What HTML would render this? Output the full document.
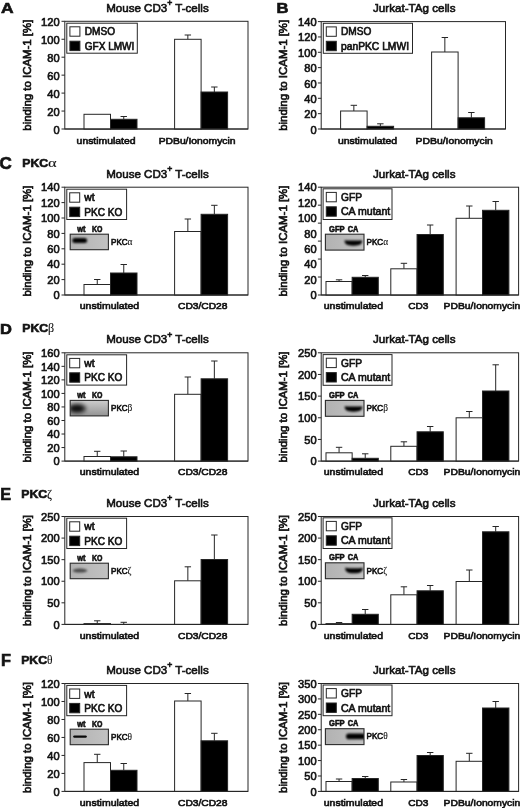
<!DOCTYPE html>
<html lang="en"><head><meta charset="utf-8"><title>PKC isotypes and binding to ICAM-1</title>
<style>html,body{margin:0;padding:0;background:#fff}svg{display:block}text{font-family:"Liberation Sans", Arial, Helvetica, sans-serif;stroke:#111;stroke-width:0.62px;paint-order:stroke fill}</style></head><body>
<svg width="520" height="808" viewBox="0 0 520 808">
<defs>
<filter id="b0" x="-60%" y="-150%" width="220%" height="400%"><feGaussianBlur stdDeviation="0.55"/></filter>
<filter id="b1" x="-60%" y="-150%" width="220%" height="400%"><feGaussianBlur stdDeviation="0.95"/></filter>
<filter id="b2" x="-60%" y="-150%" width="220%" height="400%"><feGaussianBlur stdDeviation="1.3"/></filter>
<filter id="b3" x="-60%" y="-150%" width="220%" height="400%"><feGaussianBlur stdDeviation="2.2"/></filter>
<linearGradient id="gA" x1="0" y1="0" x2="1" y2="0"><stop offset="0" stop-color="#b2b2b2"/><stop offset="1" stop-color="#c2c2c2"/></linearGradient>
<linearGradient id="gB" x1="0" y1="0" x2="0" y2="1"><stop offset="0" stop-color="#cdcdcd"/><stop offset="1" stop-color="#939393"/></linearGradient>
</defs>
<rect x="0" y="0" width="520" height="808" fill="#fff"/>
<rect x="64.80" y="21.30" width="183.20" height="107.70" fill="#fff" stroke="#262626" stroke-width="1.0"/>
<line x1="61.50" y1="129.00" x2="64.80" y2="129.00" stroke="#262626" stroke-width="1.0"/>
<line x1="61.50" y1="111.05" x2="64.80" y2="111.05" stroke="#262626" stroke-width="1.0"/>
<line x1="61.50" y1="93.10" x2="64.80" y2="93.10" stroke="#262626" stroke-width="1.0"/>
<line x1="61.50" y1="75.15" x2="64.80" y2="75.15" stroke="#262626" stroke-width="1.0"/>
<line x1="61.50" y1="57.20" x2="64.80" y2="57.20" stroke="#262626" stroke-width="1.0"/>
<line x1="61.50" y1="39.25" x2="64.80" y2="39.25" stroke="#262626" stroke-width="1.0"/>
<line x1="61.50" y1="21.30" x2="64.80" y2="21.30" stroke="#262626" stroke-width="1.0"/>
<text x="59.60" y="134.00" font-size="11.1" text-anchor="end" font-weight="normal" fill="#111">0</text>
<text x="59.60" y="115.93" font-size="11.1" text-anchor="end" font-weight="normal" fill="#111">20</text>
<text x="59.60" y="97.87" font-size="11.1" text-anchor="end" font-weight="normal" fill="#111">40</text>
<text x="59.60" y="79.80" font-size="11.1" text-anchor="end" font-weight="normal" fill="#111">60</text>
<text x="59.60" y="61.73" font-size="11.1" text-anchor="end" font-weight="normal" fill="#111">80</text>
<text x="59.60" y="43.67" font-size="11.1" text-anchor="end" font-weight="normal" fill="#111">100</text>
<text x="59.60" y="25.60" font-size="11.1" text-anchor="end" font-weight="normal" fill="#111">120</text>
<text transform="translate(30.80,75.15) rotate(-90)" font-size="10.1" text-anchor="middle" fill="#111" textLength="111.0" lengthAdjust="spacingAndGlyphs">binding to ICAM-1 [%]</text>
<text x="106.20" y="11.85" font-size="11.8" text-anchor="start" font-weight="normal" fill="#111" textLength="102.50" lengthAdjust="spacingAndGlyphs">Mouse CD3<tspan dy="-5.8" font-size="8.8">+</tspan><tspan dy="5.8"> </tspan>T-cells</text>
<rect x="84.00" y="114.30" width="26.50" height="14.70" fill="#fff" stroke="#262626" stroke-width="1.0"/>
<line x1="123.75" y1="119.30" x2="123.75" y2="116.50" stroke="#262626" stroke-width="1.0"/>
<line x1="120.55" y1="116.50" x2="126.95" y2="116.50" stroke="#262626" stroke-width="1.0"/>
<rect x="110.50" y="119.30" width="26.50" height="9.70" fill="#000" stroke="#262626" stroke-width="1.0"/>
<line x1="187.85" y1="39.30" x2="187.85" y2="35.00" stroke="#262626" stroke-width="1.0"/>
<line x1="184.65" y1="35.00" x2="191.05" y2="35.00" stroke="#262626" stroke-width="1.0"/>
<rect x="174.60" y="39.30" width="26.50" height="89.70" fill="#fff" stroke="#262626" stroke-width="1.0"/>
<line x1="214.35" y1="92.00" x2="214.35" y2="87.00" stroke="#262626" stroke-width="1.0"/>
<line x1="211.15" y1="87.00" x2="217.55" y2="87.00" stroke="#262626" stroke-width="1.0"/>
<rect x="201.10" y="92.00" width="26.50" height="37.00" fill="#000" stroke="#262626" stroke-width="1.0"/>
<line x1="64.80" y1="129.00" x2="248.00" y2="129.00" stroke="#262626" stroke-width="1.0"/>
<text x="76.60" y="143.50" font-size="9.6" text-anchor="start" font-weight="normal" fill="#111" textLength="59.00" lengthAdjust="spacingAndGlyphs">unstimulated</text>
<text x="158.70" y="143.50" font-size="9.6" text-anchor="start" font-weight="normal" fill="#111" textLength="76.80" lengthAdjust="spacingAndGlyphs">PDBu/Ionomycin</text>
<rect x="66.80" y="23.20" width="70.50" height="30.00" fill="#fff" stroke="#262626" stroke-width="1.0"/>
<rect x="69.90" y="26.80" width="10.00" height="9.40" fill="#fff" stroke="#262626" stroke-width="1.0"/>
<text x="84.70" y="35.30" font-size="10.2" text-anchor="start" font-weight="normal" fill="#111" textLength="30.30" lengthAdjust="spacingAndGlyphs">DMSO</text>
<rect x="69.90" y="41.20" width="10.00" height="9.40" fill="#000" stroke="#262626" stroke-width="1.0"/>
<text x="84.70" y="49.70" font-size="10.2" text-anchor="start" font-weight="normal" fill="#111" textLength="49.70" lengthAdjust="spacingAndGlyphs">GFX LMWI</text>
<rect x="321.20" y="21.60" width="184.30" height="107.40" fill="#fff" stroke="#262626" stroke-width="1.0"/>
<line x1="317.90" y1="129.00" x2="321.20" y2="129.00" stroke="#262626" stroke-width="1.0"/>
<line x1="317.90" y1="113.66" x2="321.20" y2="113.66" stroke="#262626" stroke-width="1.0"/>
<line x1="317.90" y1="98.31" x2="321.20" y2="98.31" stroke="#262626" stroke-width="1.0"/>
<line x1="317.90" y1="82.97" x2="321.20" y2="82.97" stroke="#262626" stroke-width="1.0"/>
<line x1="317.90" y1="67.63" x2="321.20" y2="67.63" stroke="#262626" stroke-width="1.0"/>
<line x1="317.90" y1="52.29" x2="321.20" y2="52.29" stroke="#262626" stroke-width="1.0"/>
<line x1="317.90" y1="36.94" x2="321.20" y2="36.94" stroke="#262626" stroke-width="1.0"/>
<line x1="317.90" y1="21.60" x2="321.20" y2="21.60" stroke="#262626" stroke-width="1.0"/>
<text x="316.60" y="133.80" font-size="11.1" text-anchor="end" font-weight="normal" fill="#111">0</text>
<text x="316.60" y="118.39" font-size="11.1" text-anchor="end" font-weight="normal" fill="#111">20</text>
<text x="316.60" y="102.97" font-size="11.1" text-anchor="end" font-weight="normal" fill="#111">40</text>
<text x="316.60" y="87.56" font-size="11.1" text-anchor="end" font-weight="normal" fill="#111">60</text>
<text x="316.60" y="72.14" font-size="11.1" text-anchor="end" font-weight="normal" fill="#111">80</text>
<text x="316.60" y="56.73" font-size="11.1" text-anchor="end" font-weight="normal" fill="#111">100</text>
<text x="316.60" y="41.31" font-size="11.1" text-anchor="end" font-weight="normal" fill="#111">120</text>
<text x="316.60" y="25.90" font-size="11.1" text-anchor="end" font-weight="normal" fill="#111">140</text>
<text transform="translate(287.30,75.30) rotate(-90)" font-size="10.1" text-anchor="middle" fill="#111" textLength="111.0" lengthAdjust="spacingAndGlyphs">binding to ICAM-1 [%]</text>
<text x="373.00" y="12.15" font-size="11.8" text-anchor="start" font-weight="normal" fill="#111" textLength="82.50" lengthAdjust="spacingAndGlyphs">Jurkat-TAg cells</text>
<line x1="353.85" y1="111.00" x2="353.85" y2="105.30" stroke="#262626" stroke-width="1.0"/>
<line x1="350.65" y1="105.30" x2="357.05" y2="105.30" stroke="#262626" stroke-width="1.0"/>
<rect x="340.60" y="111.00" width="26.50" height="18.00" fill="#fff" stroke="#262626" stroke-width="1.0"/>
<line x1="380.35" y1="126.30" x2="380.35" y2="123.80" stroke="#262626" stroke-width="1.0"/>
<line x1="377.15" y1="123.80" x2="383.55" y2="123.80" stroke="#262626" stroke-width="1.0"/>
<rect x="367.10" y="126.30" width="26.50" height="2.70" fill="#000" stroke="#262626" stroke-width="1.0"/>
<line x1="444.85" y1="52.00" x2="444.85" y2="37.50" stroke="#262626" stroke-width="1.0"/>
<line x1="441.65" y1="37.50" x2="448.05" y2="37.50" stroke="#262626" stroke-width="1.0"/>
<rect x="431.60" y="52.00" width="26.50" height="77.00" fill="#fff" stroke="#262626" stroke-width="1.0"/>
<line x1="471.35" y1="117.80" x2="471.35" y2="112.50" stroke="#262626" stroke-width="1.0"/>
<line x1="468.15" y1="112.50" x2="474.55" y2="112.50" stroke="#262626" stroke-width="1.0"/>
<rect x="458.10" y="117.80" width="26.50" height="11.20" fill="#000" stroke="#262626" stroke-width="1.0"/>
<line x1="321.20" y1="129.00" x2="505.50" y2="129.00" stroke="#262626" stroke-width="1.0"/>
<text x="337.90" y="143.50" font-size="9.6" text-anchor="start" font-weight="normal" fill="#111" textLength="59.20" lengthAdjust="spacingAndGlyphs">unstimulated</text>
<text x="415.60" y="143.50" font-size="9.6" text-anchor="start" font-weight="normal" fill="#111" textLength="77.20" lengthAdjust="spacingAndGlyphs">PDBu/Ionomycin</text>
<rect x="323.30" y="23.30" width="89.20" height="30.00" fill="#fff" stroke="#262626" stroke-width="1.0"/>
<rect x="326.30" y="26.90" width="10.00" height="9.40" fill="#fff" stroke="#262626" stroke-width="1.0"/>
<text x="341.00" y="35.40" font-size="10.2" text-anchor="start" font-weight="normal" fill="#111" textLength="30.30" lengthAdjust="spacingAndGlyphs">DMSO</text>
<rect x="326.30" y="41.30" width="10.00" height="9.40" fill="#000" stroke="#262626" stroke-width="1.0"/>
<text x="341.00" y="49.80" font-size="10.2" text-anchor="start" font-weight="normal" fill="#111" textLength="68.00" lengthAdjust="spacingAndGlyphs">panPKC LMWI</text>
<rect x="64.80" y="187.20" width="183.20" height="107.80" fill="#fff" stroke="#262626" stroke-width="1.0"/>
<line x1="61.50" y1="295.00" x2="64.80" y2="295.00" stroke="#262626" stroke-width="1.0"/>
<line x1="61.50" y1="279.60" x2="64.80" y2="279.60" stroke="#262626" stroke-width="1.0"/>
<line x1="61.50" y1="264.20" x2="64.80" y2="264.20" stroke="#262626" stroke-width="1.0"/>
<line x1="61.50" y1="248.80" x2="64.80" y2="248.80" stroke="#262626" stroke-width="1.0"/>
<line x1="61.50" y1="233.40" x2="64.80" y2="233.40" stroke="#262626" stroke-width="1.0"/>
<line x1="61.50" y1="218.00" x2="64.80" y2="218.00" stroke="#262626" stroke-width="1.0"/>
<line x1="61.50" y1="202.60" x2="64.80" y2="202.60" stroke="#262626" stroke-width="1.0"/>
<line x1="61.50" y1="187.20" x2="64.80" y2="187.20" stroke="#262626" stroke-width="1.0"/>
<text x="59.60" y="299.20" font-size="11.1" text-anchor="end" font-weight="normal" fill="#111">0</text>
<text x="59.60" y="283.80" font-size="11.1" text-anchor="end" font-weight="normal" fill="#111">20</text>
<text x="59.60" y="268.40" font-size="11.1" text-anchor="end" font-weight="normal" fill="#111">40</text>
<text x="59.60" y="253.00" font-size="11.1" text-anchor="end" font-weight="normal" fill="#111">60</text>
<text x="59.60" y="237.60" font-size="11.1" text-anchor="end" font-weight="normal" fill="#111">80</text>
<text x="59.60" y="222.20" font-size="11.1" text-anchor="end" font-weight="normal" fill="#111">100</text>
<text x="59.60" y="206.80" font-size="11.1" text-anchor="end" font-weight="normal" fill="#111">120</text>
<text x="59.60" y="191.40" font-size="11.1" text-anchor="end" font-weight="normal" fill="#111">140</text>
<text transform="translate(30.80,241.10) rotate(-90)" font-size="10.1" text-anchor="middle" fill="#111" textLength="111.0" lengthAdjust="spacingAndGlyphs">binding to ICAM-1 [%]</text>
<text x="106.20" y="177.75" font-size="11.8" text-anchor="start" font-weight="normal" fill="#111" textLength="102.50" lengthAdjust="spacingAndGlyphs">Mouse CD3<tspan dy="-5.8" font-size="8.8">+</tspan><tspan dy="5.8"> </tspan>T-cells</text>
<line x1="97.25" y1="284.50" x2="97.25" y2="279.50" stroke="#262626" stroke-width="1.0"/>
<line x1="94.05" y1="279.50" x2="100.45" y2="279.50" stroke="#262626" stroke-width="1.0"/>
<rect x="84.00" y="284.50" width="26.50" height="10.50" fill="#fff" stroke="#262626" stroke-width="1.0"/>
<line x1="123.75" y1="273.00" x2="123.75" y2="264.50" stroke="#262626" stroke-width="1.0"/>
<line x1="120.55" y1="264.50" x2="126.95" y2="264.50" stroke="#262626" stroke-width="1.0"/>
<rect x="110.50" y="273.00" width="26.50" height="22.00" fill="#000" stroke="#262626" stroke-width="1.0"/>
<line x1="187.85" y1="231.50" x2="187.85" y2="219.00" stroke="#262626" stroke-width="1.0"/>
<line x1="184.65" y1="219.00" x2="191.05" y2="219.00" stroke="#262626" stroke-width="1.0"/>
<rect x="174.60" y="231.50" width="26.50" height="63.50" fill="#fff" stroke="#262626" stroke-width="1.0"/>
<line x1="214.35" y1="214.30" x2="214.35" y2="205.30" stroke="#262626" stroke-width="1.0"/>
<line x1="211.15" y1="205.30" x2="217.55" y2="205.30" stroke="#262626" stroke-width="1.0"/>
<rect x="201.10" y="214.30" width="26.50" height="80.70" fill="#000" stroke="#262626" stroke-width="1.0"/>
<line x1="64.80" y1="295.00" x2="248.00" y2="295.00" stroke="#262626" stroke-width="1.0"/>
<text x="79.80" y="309.20" font-size="9.6" text-anchor="start" font-weight="normal" fill="#111" textLength="59.40" lengthAdjust="spacingAndGlyphs">unstimulated</text>
<text x="178.00" y="309.20" font-size="9.6" text-anchor="start" font-weight="normal" fill="#111" textLength="49.50" lengthAdjust="spacingAndGlyphs">CD3/CD28</text>
<rect x="66.80" y="189.20" width="59.80" height="30.30" fill="#fff" stroke="#262626" stroke-width="1.0"/>
<rect x="69.70" y="192.80" width="10.00" height="9.40" fill="#fff" stroke="#262626" stroke-width="1.0"/>
<text x="84.20" y="201.30" font-size="10.2" text-anchor="start" font-weight="normal" fill="#111" textLength="10.40" lengthAdjust="spacingAndGlyphs">wt</text>
<rect x="69.70" y="207.20" width="10.00" height="9.40" fill="#000" stroke="#262626" stroke-width="1.0"/>
<text x="84.20" y="215.70" font-size="10.2" text-anchor="start" font-weight="normal" fill="#111" textLength="38.10" lengthAdjust="spacingAndGlyphs">PKC KO</text>
<clipPath id="c3"><rect x="70.20" y="234.20" width="38.20" height="15.50"/></clipPath>
<rect x="70.20" y="234.20" width="38.20" height="15.50" fill="url(#gA)"/>
<g clip-path="url(#c3)">
<rect x="72.30" y="237.90" width="14.8" height="5.0" rx="2.5" fill="#000" opacity="1" filter="url(#b1)"/>
</g>
<rect x="70.20" y="234.20" width="38.20" height="15.50" fill="none" stroke="#2a2a2a" stroke-width="1.1"/>
<text x="77.30" y="231.60" font-size="8.6" text-anchor="start" font-weight="bold" fill="#111" textLength="8.30" lengthAdjust="spacingAndGlyphs" stroke-width="0.1">wt</text>
<text x="92.00" y="231.60" font-size="8.6" text-anchor="start" font-weight="bold" fill="#111" textLength="10.40" lengthAdjust="spacingAndGlyphs" stroke-width="0.1">KO</text>
<text x="111.00" y="244.75" font-size="8.4" font-weight="normal" stroke-width="0.5" fill="#111"><tspan textLength="16.6" lengthAdjust="spacingAndGlyphs">PKC</tspan><tspan font-family='"Liberation Serif", "DejaVu Serif", serif' font-weight="normal" font-size="9.4" stroke-width="0.1">α</tspan></text>
<rect x="321.20" y="187.20" width="197.40" height="107.80" fill="#fff" stroke="#262626" stroke-width="1.0"/>
<line x1="317.90" y1="295.00" x2="321.20" y2="295.00" stroke="#262626" stroke-width="1.0"/>
<line x1="317.90" y1="277.03" x2="321.20" y2="277.03" stroke="#262626" stroke-width="1.0"/>
<line x1="317.90" y1="259.07" x2="321.20" y2="259.07" stroke="#262626" stroke-width="1.0"/>
<line x1="317.90" y1="241.10" x2="321.20" y2="241.10" stroke="#262626" stroke-width="1.0"/>
<line x1="317.90" y1="223.13" x2="321.20" y2="223.13" stroke="#262626" stroke-width="1.0"/>
<line x1="317.90" y1="205.17" x2="321.20" y2="205.17" stroke="#262626" stroke-width="1.0"/>
<line x1="317.90" y1="187.20" x2="321.20" y2="187.20" stroke="#262626" stroke-width="1.0"/>
<text x="316.60" y="299.20" font-size="11.1" text-anchor="end" font-weight="normal" fill="#111">0</text>
<text x="316.60" y="283.80" font-size="11.1" text-anchor="end" font-weight="normal" fill="#111">20</text>
<text x="316.60" y="268.40" font-size="11.1" text-anchor="end" font-weight="normal" fill="#111">40</text>
<text x="316.60" y="253.00" font-size="11.1" text-anchor="end" font-weight="normal" fill="#111">60</text>
<text x="316.60" y="237.60" font-size="11.1" text-anchor="end" font-weight="normal" fill="#111">80</text>
<text x="316.60" y="222.20" font-size="11.1" text-anchor="end" font-weight="normal" fill="#111">100</text>
<text x="316.60" y="206.80" font-size="11.1" text-anchor="end" font-weight="normal" fill="#111">120</text>
<text x="316.60" y="191.40" font-size="11.1" text-anchor="end" font-weight="normal" fill="#111">140</text>
<text transform="translate(287.10,241.10) rotate(-90)" font-size="10.1" text-anchor="middle" fill="#111" textLength="111.0" lengthAdjust="spacingAndGlyphs">binding to ICAM-1 [%]</text>
<text x="373.00" y="177.75" font-size="11.8" text-anchor="start" font-weight="normal" fill="#111" textLength="82.50" lengthAdjust="spacingAndGlyphs">Jurkat-TAg cells</text>
<line x1="339.07" y1="281.50" x2="339.07" y2="279.80" stroke="#262626" stroke-width="1.0"/>
<line x1="335.88" y1="279.80" x2="342.27" y2="279.80" stroke="#262626" stroke-width="1.0"/>
<rect x="326.00" y="281.50" width="26.15" height="13.50" fill="#fff" stroke="#262626" stroke-width="1.0"/>
<line x1="365.22" y1="277.30" x2="365.22" y2="275.50" stroke="#262626" stroke-width="1.0"/>
<line x1="362.02" y1="275.50" x2="368.42" y2="275.50" stroke="#262626" stroke-width="1.0"/>
<rect x="352.15" y="277.30" width="26.15" height="17.70" fill="#000" stroke="#262626" stroke-width="1.0"/>
<line x1="403.93" y1="268.80" x2="403.93" y2="263.30" stroke="#262626" stroke-width="1.0"/>
<line x1="400.73" y1="263.30" x2="407.12" y2="263.30" stroke="#262626" stroke-width="1.0"/>
<rect x="390.80" y="268.80" width="26.25" height="26.20" fill="#fff" stroke="#262626" stroke-width="1.0"/>
<line x1="430.18" y1="234.50" x2="430.18" y2="225.00" stroke="#262626" stroke-width="1.0"/>
<line x1="426.98" y1="225.00" x2="433.38" y2="225.00" stroke="#262626" stroke-width="1.0"/>
<rect x="417.05" y="234.50" width="26.25" height="60.50" fill="#000" stroke="#262626" stroke-width="1.0"/>
<line x1="469.30" y1="218.30" x2="469.30" y2="206.00" stroke="#262626" stroke-width="1.0"/>
<line x1="466.10" y1="206.00" x2="472.50" y2="206.00" stroke="#262626" stroke-width="1.0"/>
<rect x="456.10" y="218.30" width="26.40" height="76.70" fill="#fff" stroke="#262626" stroke-width="1.0"/>
<line x1="495.70" y1="210.30" x2="495.70" y2="201.50" stroke="#262626" stroke-width="1.0"/>
<line x1="492.50" y1="201.50" x2="498.90" y2="201.50" stroke="#262626" stroke-width="1.0"/>
<rect x="482.50" y="210.30" width="26.40" height="84.70" fill="#000" stroke="#262626" stroke-width="1.0"/>
<line x1="321.20" y1="295.00" x2="518.60" y2="295.00" stroke="#262626" stroke-width="1.0"/>
<text x="323.80" y="309.20" font-size="9.6" text-anchor="start" font-weight="normal" fill="#111" textLength="59.20" lengthAdjust="spacingAndGlyphs">unstimulated</text>
<text x="408.30" y="309.20" font-size="9.6" text-anchor="start" font-weight="normal" fill="#111" textLength="20.20" lengthAdjust="spacingAndGlyphs">CD3</text>
<text x="443.60" y="309.20" font-size="9.6" text-anchor="start" font-weight="normal" fill="#111" textLength="76.60" lengthAdjust="spacingAndGlyphs">PDBu/Ionomycin</text>
<rect x="323.10" y="188.80" width="68.90" height="30.70" fill="#fff" stroke="#262626" stroke-width="1.0"/>
<rect x="326.30" y="192.40" width="10.00" height="9.40" fill="#fff" stroke="#262626" stroke-width="1.0"/>
<text x="341.00" y="200.90" font-size="10.2" text-anchor="start" font-weight="normal" fill="#111" textLength="21.00" lengthAdjust="spacingAndGlyphs">GFP</text>
<rect x="326.30" y="206.80" width="10.00" height="9.40" fill="#000" stroke="#262626" stroke-width="1.0"/>
<text x="341.00" y="215.30" font-size="10.2" text-anchor="start" font-weight="normal" fill="#111" textLength="49.30" lengthAdjust="spacingAndGlyphs">CA mutant</text>
<clipPath id="c4"><rect x="325.40" y="234.20" width="38.60" height="15.90"/></clipPath>
<rect x="325.40" y="234.20" width="38.60" height="15.90" fill="url(#gA)"/>
<g clip-path="url(#c4)">
<path transform="translate(353.40,242.60) scale(1.0)" d="M-8.6,-2.7 Q-7.6,-1.9 -4,-2 L4,-2 Q7.6,-1.9 8.6,-2.7 Q9.6,0.8 5.5,2.5 Q0,3.7 -5.5,2.5 Q-9.6,0.8 -8.6,-2.7Z" fill="#000" opacity="1" filter="url(#b1)"/>
</g>
<rect x="325.40" y="234.20" width="38.60" height="15.90" fill="none" stroke="#2a2a2a" stroke-width="1.1"/>
<text x="329.00" y="231.60" font-size="8.6" text-anchor="start" font-weight="bold" fill="#111" textLength="15.60" lengthAdjust="spacingAndGlyphs" stroke-width="0.1">GFP</text>
<text x="347.80" y="231.60" font-size="8.6" text-anchor="start" font-weight="bold" fill="#111" textLength="10.60" lengthAdjust="spacingAndGlyphs" stroke-width="0.1">CA</text>
<text x="366.60" y="244.95" font-size="8.4" font-weight="normal" stroke-width="0.5" fill="#111"><tspan textLength="16.6" lengthAdjust="spacingAndGlyphs">PKC</tspan><tspan font-family='"Liberation Serif", "DejaVu Serif", serif' font-weight="normal" font-size="9.4" stroke-width="0.1">α</tspan></text>
<rect x="64.80" y="352.80" width="183.20" height="108.30" fill="#fff" stroke="#262626" stroke-width="1.0"/>
<line x1="61.50" y1="461.10" x2="64.80" y2="461.10" stroke="#262626" stroke-width="1.0"/>
<line x1="61.50" y1="447.56" x2="64.80" y2="447.56" stroke="#262626" stroke-width="1.0"/>
<line x1="61.50" y1="434.03" x2="64.80" y2="434.03" stroke="#262626" stroke-width="1.0"/>
<line x1="61.50" y1="420.49" x2="64.80" y2="420.49" stroke="#262626" stroke-width="1.0"/>
<line x1="61.50" y1="406.95" x2="64.80" y2="406.95" stroke="#262626" stroke-width="1.0"/>
<line x1="61.50" y1="393.41" x2="64.80" y2="393.41" stroke="#262626" stroke-width="1.0"/>
<line x1="61.50" y1="379.88" x2="64.80" y2="379.88" stroke="#262626" stroke-width="1.0"/>
<line x1="61.50" y1="366.34" x2="64.80" y2="366.34" stroke="#262626" stroke-width="1.0"/>
<line x1="61.50" y1="352.80" x2="64.80" y2="352.80" stroke="#262626" stroke-width="1.0"/>
<text x="59.60" y="465.30" font-size="11.1" text-anchor="end" font-weight="normal" fill="#111">0</text>
<text x="59.60" y="451.76" font-size="11.1" text-anchor="end" font-weight="normal" fill="#111">20</text>
<text x="59.60" y="438.23" font-size="11.1" text-anchor="end" font-weight="normal" fill="#111">40</text>
<text x="59.60" y="424.69" font-size="11.1" text-anchor="end" font-weight="normal" fill="#111">60</text>
<text x="59.60" y="411.15" font-size="11.1" text-anchor="end" font-weight="normal" fill="#111">80</text>
<text x="59.60" y="397.61" font-size="11.1" text-anchor="end" font-weight="normal" fill="#111">100</text>
<text x="59.60" y="384.07" font-size="11.1" text-anchor="end" font-weight="normal" fill="#111">120</text>
<text x="59.60" y="370.54" font-size="11.1" text-anchor="end" font-weight="normal" fill="#111">140</text>
<text x="59.60" y="357.00" font-size="11.1" text-anchor="end" font-weight="normal" fill="#111">160</text>
<text transform="translate(30.80,406.95) rotate(-90)" font-size="10.1" text-anchor="middle" fill="#111" textLength="111.0" lengthAdjust="spacingAndGlyphs">binding to ICAM-1 [%]</text>
<text x="106.20" y="343.35" font-size="11.8" text-anchor="start" font-weight="normal" fill="#111" textLength="102.50" lengthAdjust="spacingAndGlyphs">Mouse CD3<tspan dy="-5.8" font-size="8.8">+</tspan><tspan dy="5.8"> </tspan>T-cells</text>
<line x1="97.25" y1="456.50" x2="97.25" y2="451.30" stroke="#262626" stroke-width="1.0"/>
<line x1="94.05" y1="451.30" x2="100.45" y2="451.30" stroke="#262626" stroke-width="1.0"/>
<rect x="84.00" y="456.50" width="26.50" height="4.60" fill="#fff" stroke="#262626" stroke-width="1.0"/>
<line x1="123.75" y1="456.80" x2="123.75" y2="451.00" stroke="#262626" stroke-width="1.0"/>
<line x1="120.55" y1="451.00" x2="126.95" y2="451.00" stroke="#262626" stroke-width="1.0"/>
<rect x="110.50" y="456.80" width="26.50" height="4.30" fill="#000" stroke="#262626" stroke-width="1.0"/>
<line x1="187.85" y1="394.30" x2="187.85" y2="377.00" stroke="#262626" stroke-width="1.0"/>
<line x1="184.65" y1="377.00" x2="191.05" y2="377.00" stroke="#262626" stroke-width="1.0"/>
<rect x="174.60" y="394.30" width="26.50" height="66.80" fill="#fff" stroke="#262626" stroke-width="1.0"/>
<line x1="214.35" y1="378.80" x2="214.35" y2="361.00" stroke="#262626" stroke-width="1.0"/>
<line x1="211.15" y1="361.00" x2="217.55" y2="361.00" stroke="#262626" stroke-width="1.0"/>
<rect x="201.10" y="378.80" width="26.50" height="82.30" fill="#000" stroke="#262626" stroke-width="1.0"/>
<line x1="64.80" y1="461.10" x2="248.00" y2="461.10" stroke="#262626" stroke-width="1.0"/>
<text x="79.80" y="475.20" font-size="9.6" text-anchor="start" font-weight="normal" fill="#111" textLength="59.40" lengthAdjust="spacingAndGlyphs">unstimulated</text>
<text x="178.00" y="475.20" font-size="9.6" text-anchor="start" font-weight="normal" fill="#111" textLength="49.50" lengthAdjust="spacingAndGlyphs">CD3/CD28</text>
<rect x="66.80" y="354.80" width="59.80" height="30.30" fill="#fff" stroke="#262626" stroke-width="1.0"/>
<rect x="69.70" y="358.40" width="10.00" height="9.40" fill="#fff" stroke="#262626" stroke-width="1.0"/>
<text x="84.20" y="366.90" font-size="10.2" text-anchor="start" font-weight="normal" fill="#111" textLength="10.40" lengthAdjust="spacingAndGlyphs">wt</text>
<rect x="69.70" y="372.80" width="10.00" height="9.40" fill="#000" stroke="#262626" stroke-width="1.0"/>
<text x="84.20" y="381.30" font-size="10.2" text-anchor="start" font-weight="normal" fill="#111" textLength="38.10" lengthAdjust="spacingAndGlyphs">PKC KO</text>
<clipPath id="c5"><rect x="70.20" y="400.40" width="38.20" height="15.50"/></clipPath>
<rect x="70.20" y="400.40" width="38.20" height="15.50" fill="url(#gB)"/>
<g clip-path="url(#c5)">
<ellipse cx="77.00" cy="408.40" rx="9.0" ry="4.6" fill="#000" opacity="0.85" filter="url(#b3)"/>
<ellipse cx="77.00" cy="408.60" rx="4.5" ry="2.2" fill="#000" opacity="0.4" filter="url(#b2)"/>
</g>
<rect x="70.20" y="400.40" width="38.20" height="15.50" fill="none" stroke="#2a2a2a" stroke-width="1.1"/>
<text x="77.30" y="397.80" font-size="8.6" text-anchor="start" font-weight="bold" fill="#111" textLength="8.30" lengthAdjust="spacingAndGlyphs" stroke-width="0.1">wt</text>
<text x="92.00" y="397.80" font-size="8.6" text-anchor="start" font-weight="bold" fill="#111" textLength="10.40" lengthAdjust="spacingAndGlyphs" stroke-width="0.1">KO</text>
<text x="111.00" y="410.95" font-size="8.4" font-weight="normal" stroke-width="0.5" fill="#111"><tspan textLength="16.6" lengthAdjust="spacingAndGlyphs">PKC</tspan><tspan font-family='"Liberation Serif", "DejaVu Serif", serif' font-weight="normal" font-size="9.4" stroke-width="0.1">β</tspan></text>
<rect x="321.20" y="352.80" width="197.40" height="108.30" fill="#fff" stroke="#262626" stroke-width="1.0"/>
<line x1="317.90" y1="461.10" x2="321.20" y2="461.10" stroke="#262626" stroke-width="1.0"/>
<line x1="317.90" y1="439.44" x2="321.20" y2="439.44" stroke="#262626" stroke-width="1.0"/>
<line x1="317.90" y1="417.78" x2="321.20" y2="417.78" stroke="#262626" stroke-width="1.0"/>
<line x1="317.90" y1="396.12" x2="321.20" y2="396.12" stroke="#262626" stroke-width="1.0"/>
<line x1="317.90" y1="374.46" x2="321.20" y2="374.46" stroke="#262626" stroke-width="1.0"/>
<line x1="317.90" y1="352.80" x2="321.20" y2="352.80" stroke="#262626" stroke-width="1.0"/>
<text x="316.60" y="465.30" font-size="11.1" text-anchor="end" font-weight="normal" fill="#111">0</text>
<text x="316.60" y="443.64" font-size="11.1" text-anchor="end" font-weight="normal" fill="#111">50</text>
<text x="316.60" y="421.98" font-size="11.1" text-anchor="end" font-weight="normal" fill="#111">100</text>
<text x="316.60" y="400.32" font-size="11.1" text-anchor="end" font-weight="normal" fill="#111">150</text>
<text x="316.60" y="378.66" font-size="11.1" text-anchor="end" font-weight="normal" fill="#111">200</text>
<text x="316.60" y="357.00" font-size="11.1" text-anchor="end" font-weight="normal" fill="#111">250</text>
<text transform="translate(287.10,406.95) rotate(-90)" font-size="10.1" text-anchor="middle" fill="#111" textLength="111.0" lengthAdjust="spacingAndGlyphs">binding to ICAM-1 [%]</text>
<text x="373.00" y="343.35" font-size="11.8" text-anchor="start" font-weight="normal" fill="#111" textLength="82.50" lengthAdjust="spacingAndGlyphs">Jurkat-TAg cells</text>
<line x1="339.07" y1="452.80" x2="339.07" y2="447.30" stroke="#262626" stroke-width="1.0"/>
<line x1="335.88" y1="447.30" x2="342.27" y2="447.30" stroke="#262626" stroke-width="1.0"/>
<rect x="326.00" y="452.80" width="26.15" height="8.30" fill="#fff" stroke="#262626" stroke-width="1.0"/>
<line x1="365.22" y1="458.30" x2="365.22" y2="453.80" stroke="#262626" stroke-width="1.0"/>
<line x1="362.02" y1="453.80" x2="368.42" y2="453.80" stroke="#262626" stroke-width="1.0"/>
<rect x="352.15" y="458.30" width="26.15" height="2.80" fill="#000" stroke="#262626" stroke-width="1.0"/>
<line x1="403.93" y1="446.30" x2="403.93" y2="441.80" stroke="#262626" stroke-width="1.0"/>
<line x1="400.73" y1="441.80" x2="407.12" y2="441.80" stroke="#262626" stroke-width="1.0"/>
<rect x="390.80" y="446.30" width="26.25" height="14.80" fill="#fff" stroke="#262626" stroke-width="1.0"/>
<line x1="430.18" y1="431.80" x2="430.18" y2="426.50" stroke="#262626" stroke-width="1.0"/>
<line x1="426.98" y1="426.50" x2="433.38" y2="426.50" stroke="#262626" stroke-width="1.0"/>
<rect x="417.05" y="431.80" width="26.25" height="29.30" fill="#000" stroke="#262626" stroke-width="1.0"/>
<line x1="469.30" y1="417.80" x2="469.30" y2="411.50" stroke="#262626" stroke-width="1.0"/>
<line x1="466.10" y1="411.50" x2="472.50" y2="411.50" stroke="#262626" stroke-width="1.0"/>
<rect x="456.10" y="417.80" width="26.40" height="43.30" fill="#fff" stroke="#262626" stroke-width="1.0"/>
<line x1="495.70" y1="391.00" x2="495.70" y2="364.80" stroke="#262626" stroke-width="1.0"/>
<line x1="492.50" y1="364.80" x2="498.90" y2="364.80" stroke="#262626" stroke-width="1.0"/>
<rect x="482.50" y="391.00" width="26.40" height="70.10" fill="#000" stroke="#262626" stroke-width="1.0"/>
<line x1="321.20" y1="461.10" x2="518.60" y2="461.10" stroke="#262626" stroke-width="1.0"/>
<text x="323.80" y="475.20" font-size="9.6" text-anchor="start" font-weight="normal" fill="#111" textLength="59.20" lengthAdjust="spacingAndGlyphs">unstimulated</text>
<text x="408.30" y="475.20" font-size="9.6" text-anchor="start" font-weight="normal" fill="#111" textLength="20.20" lengthAdjust="spacingAndGlyphs">CD3</text>
<text x="443.60" y="475.20" font-size="9.6" text-anchor="start" font-weight="normal" fill="#111" textLength="76.60" lengthAdjust="spacingAndGlyphs">PDBu/Ionomycin</text>
<rect x="323.10" y="354.60" width="68.90" height="30.70" fill="#fff" stroke="#262626" stroke-width="1.0"/>
<rect x="326.30" y="358.20" width="10.00" height="9.40" fill="#fff" stroke="#262626" stroke-width="1.0"/>
<text x="341.00" y="366.70" font-size="10.2" text-anchor="start" font-weight="normal" fill="#111" textLength="21.00" lengthAdjust="spacingAndGlyphs">GFP</text>
<rect x="326.30" y="372.60" width="10.00" height="9.40" fill="#000" stroke="#262626" stroke-width="1.0"/>
<text x="341.00" y="381.10" font-size="10.2" text-anchor="start" font-weight="normal" fill="#111" textLength="49.30" lengthAdjust="spacingAndGlyphs">CA mutant</text>
<clipPath id="c6"><rect x="325.40" y="400.40" width="38.60" height="15.90"/></clipPath>
<rect x="325.40" y="400.40" width="38.60" height="15.90" fill="url(#gA)"/>
<g clip-path="url(#c6)">
<path transform="translate(353.50,408.60) scale(1.0)" d="M-8.6,-2.7 Q-7.6,-1.9 -4,-2 L4,-2 Q7.6,-1.9 8.6,-2.7 Q9.6,0.8 5.5,2.5 Q0,3.7 -5.5,2.5 Q-9.6,0.8 -8.6,-2.7Z" fill="#000" opacity="1" filter="url(#b1)"/>
</g>
<rect x="325.40" y="400.40" width="38.60" height="15.90" fill="none" stroke="#2a2a2a" stroke-width="1.1"/>
<text x="329.00" y="397.80" font-size="8.6" text-anchor="start" font-weight="bold" fill="#111" textLength="15.60" lengthAdjust="spacingAndGlyphs" stroke-width="0.1">GFP</text>
<text x="347.80" y="397.80" font-size="8.6" text-anchor="start" font-weight="bold" fill="#111" textLength="10.60" lengthAdjust="spacingAndGlyphs" stroke-width="0.1">CA</text>
<text x="366.60" y="411.15" font-size="8.4" font-weight="normal" stroke-width="0.5" fill="#111"><tspan textLength="16.6" lengthAdjust="spacingAndGlyphs">PKC</tspan><tspan font-family='"Liberation Serif", "DejaVu Serif", serif' font-weight="normal" font-size="9.4" stroke-width="0.1">β</tspan></text>
<rect x="64.80" y="516.50" width="183.20" height="107.90" fill="#fff" stroke="#262626" stroke-width="1.0"/>
<line x1="61.50" y1="624.40" x2="64.80" y2="624.40" stroke="#262626" stroke-width="1.0"/>
<line x1="61.50" y1="602.82" x2="64.80" y2="602.82" stroke="#262626" stroke-width="1.0"/>
<line x1="61.50" y1="581.24" x2="64.80" y2="581.24" stroke="#262626" stroke-width="1.0"/>
<line x1="61.50" y1="559.66" x2="64.80" y2="559.66" stroke="#262626" stroke-width="1.0"/>
<line x1="61.50" y1="538.08" x2="64.80" y2="538.08" stroke="#262626" stroke-width="1.0"/>
<line x1="61.50" y1="516.50" x2="64.80" y2="516.50" stroke="#262626" stroke-width="1.0"/>
<text x="59.60" y="628.60" font-size="11.1" text-anchor="end" font-weight="normal" fill="#111">0</text>
<text x="59.60" y="607.02" font-size="11.1" text-anchor="end" font-weight="normal" fill="#111">50</text>
<text x="59.60" y="585.44" font-size="11.1" text-anchor="end" font-weight="normal" fill="#111">100</text>
<text x="59.60" y="563.86" font-size="11.1" text-anchor="end" font-weight="normal" fill="#111">150</text>
<text x="59.60" y="542.28" font-size="11.1" text-anchor="end" font-weight="normal" fill="#111">200</text>
<text x="59.60" y="520.70" font-size="11.1" text-anchor="end" font-weight="normal" fill="#111">250</text>
<text transform="translate(30.80,570.45) rotate(-90)" font-size="10.1" text-anchor="middle" fill="#111" textLength="111.0" lengthAdjust="spacingAndGlyphs">binding to ICAM-1 [%]</text>
<text x="106.20" y="507.05" font-size="11.8" text-anchor="start" font-weight="normal" fill="#111" textLength="102.50" lengthAdjust="spacingAndGlyphs">Mouse CD3<tspan dy="-5.8" font-size="8.8">+</tspan><tspan dy="5.8"> </tspan>T-cells</text>
<line x1="97.25" y1="623.60" x2="97.25" y2="620.80" stroke="#262626" stroke-width="1.0"/>
<line x1="94.05" y1="620.80" x2="100.45" y2="620.80" stroke="#262626" stroke-width="1.0"/>
<rect x="84.00" y="623.60" width="26.50" height="0.80" fill="#fff" stroke="#262626" stroke-width="1.0"/>
<line x1="123.75" y1="624.40" x2="123.75" y2="622.30" stroke="#262626" stroke-width="1.0"/>
<line x1="120.55" y1="622.30" x2="126.95" y2="622.30" stroke="#262626" stroke-width="1.0"/>
<line x1="187.85" y1="580.80" x2="187.85" y2="566.80" stroke="#262626" stroke-width="1.0"/>
<line x1="184.65" y1="566.80" x2="191.05" y2="566.80" stroke="#262626" stroke-width="1.0"/>
<rect x="174.60" y="580.80" width="26.50" height="43.60" fill="#fff" stroke="#262626" stroke-width="1.0"/>
<line x1="214.35" y1="559.50" x2="214.35" y2="535.00" stroke="#262626" stroke-width="1.0"/>
<line x1="211.15" y1="535.00" x2="217.55" y2="535.00" stroke="#262626" stroke-width="1.0"/>
<rect x="201.10" y="559.50" width="26.50" height="64.90" fill="#000" stroke="#262626" stroke-width="1.0"/>
<line x1="64.80" y1="624.40" x2="248.00" y2="624.40" stroke="#262626" stroke-width="1.0"/>
<text x="79.80" y="638.90" font-size="9.6" text-anchor="start" font-weight="normal" fill="#111" textLength="59.40" lengthAdjust="spacingAndGlyphs">unstimulated</text>
<text x="178.00" y="638.90" font-size="9.6" text-anchor="start" font-weight="normal" fill="#111" textLength="49.50" lengthAdjust="spacingAndGlyphs">CD3/CD28</text>
<rect x="66.80" y="518.20" width="59.80" height="30.30" fill="#fff" stroke="#262626" stroke-width="1.0"/>
<rect x="69.70" y="521.80" width="10.00" height="9.40" fill="#fff" stroke="#262626" stroke-width="1.0"/>
<text x="84.20" y="530.30" font-size="10.2" text-anchor="start" font-weight="normal" fill="#111" textLength="10.40" lengthAdjust="spacingAndGlyphs">wt</text>
<rect x="69.70" y="536.20" width="10.00" height="9.40" fill="#000" stroke="#262626" stroke-width="1.0"/>
<text x="84.20" y="544.70" font-size="10.2" text-anchor="start" font-weight="normal" fill="#111" textLength="38.10" lengthAdjust="spacingAndGlyphs">PKC KO</text>
<clipPath id="c7"><rect x="70.20" y="563.20" width="38.20" height="15.50"/></clipPath>
<rect x="70.20" y="563.20" width="38.20" height="15.50" fill="url(#gA)"/>
<g clip-path="url(#c7)">
<ellipse cx="80.00" cy="570.60" rx="7.4" ry="2.0" fill="#000" opacity="0.6" filter="url(#b2)"/>
</g>
<rect x="70.20" y="563.20" width="38.20" height="15.50" fill="none" stroke="#2a2a2a" stroke-width="1.1"/>
<text x="77.30" y="560.60" font-size="8.6" text-anchor="start" font-weight="bold" fill="#111" textLength="8.30" lengthAdjust="spacingAndGlyphs" stroke-width="0.1">wt</text>
<text x="92.00" y="560.60" font-size="8.6" text-anchor="start" font-weight="bold" fill="#111" textLength="10.40" lengthAdjust="spacingAndGlyphs" stroke-width="0.1">KO</text>
<text x="111.00" y="573.75" font-size="8.4" font-weight="normal" stroke-width="0.5" fill="#111"><tspan textLength="16.6" lengthAdjust="spacingAndGlyphs">PKC</tspan><tspan font-family='"Liberation Serif", "DejaVu Serif", serif' font-weight="normal" font-size="9.4" stroke-width="0.1">ζ</tspan></text>
<rect x="321.20" y="516.50" width="197.40" height="107.90" fill="#fff" stroke="#262626" stroke-width="1.0"/>
<line x1="317.90" y1="624.40" x2="321.20" y2="624.40" stroke="#262626" stroke-width="1.0"/>
<line x1="317.90" y1="602.82" x2="321.20" y2="602.82" stroke="#262626" stroke-width="1.0"/>
<line x1="317.90" y1="581.24" x2="321.20" y2="581.24" stroke="#262626" stroke-width="1.0"/>
<line x1="317.90" y1="559.66" x2="321.20" y2="559.66" stroke="#262626" stroke-width="1.0"/>
<line x1="317.90" y1="538.08" x2="321.20" y2="538.08" stroke="#262626" stroke-width="1.0"/>
<line x1="317.90" y1="516.50" x2="321.20" y2="516.50" stroke="#262626" stroke-width="1.0"/>
<text x="316.60" y="628.60" font-size="11.1" text-anchor="end" font-weight="normal" fill="#111">0</text>
<text x="316.60" y="607.02" font-size="11.1" text-anchor="end" font-weight="normal" fill="#111">50</text>
<text x="316.60" y="585.44" font-size="11.1" text-anchor="end" font-weight="normal" fill="#111">100</text>
<text x="316.60" y="563.86" font-size="11.1" text-anchor="end" font-weight="normal" fill="#111">150</text>
<text x="316.60" y="542.28" font-size="11.1" text-anchor="end" font-weight="normal" fill="#111">200</text>
<text x="316.60" y="520.70" font-size="11.1" text-anchor="end" font-weight="normal" fill="#111">250</text>
<text transform="translate(287.10,570.45) rotate(-90)" font-size="10.1" text-anchor="middle" fill="#111" textLength="111.0" lengthAdjust="spacingAndGlyphs">binding to ICAM-1 [%]</text>
<text x="373.00" y="507.05" font-size="11.8" text-anchor="start" font-weight="normal" fill="#111" textLength="82.50" lengthAdjust="spacingAndGlyphs">Jurkat-TAg cells</text>
<line x1="339.07" y1="623.60" x2="339.07" y2="622.50" stroke="#262626" stroke-width="1.0"/>
<line x1="335.88" y1="622.50" x2="342.27" y2="622.50" stroke="#262626" stroke-width="1.0"/>
<rect x="326.00" y="623.60" width="26.15" height="0.80" fill="#fff" stroke="#262626" stroke-width="1.0"/>
<line x1="365.22" y1="614.30" x2="365.22" y2="609.50" stroke="#262626" stroke-width="1.0"/>
<line x1="362.02" y1="609.50" x2="368.42" y2="609.50" stroke="#262626" stroke-width="1.0"/>
<rect x="352.15" y="614.30" width="26.15" height="10.10" fill="#000" stroke="#262626" stroke-width="1.0"/>
<line x1="403.93" y1="594.80" x2="403.93" y2="586.80" stroke="#262626" stroke-width="1.0"/>
<line x1="400.73" y1="586.80" x2="407.12" y2="586.80" stroke="#262626" stroke-width="1.0"/>
<rect x="390.80" y="594.80" width="26.25" height="29.60" fill="#fff" stroke="#262626" stroke-width="1.0"/>
<line x1="430.18" y1="590.80" x2="430.18" y2="585.50" stroke="#262626" stroke-width="1.0"/>
<line x1="426.98" y1="585.50" x2="433.38" y2="585.50" stroke="#262626" stroke-width="1.0"/>
<rect x="417.05" y="590.80" width="26.25" height="33.60" fill="#000" stroke="#262626" stroke-width="1.0"/>
<line x1="469.30" y1="581.50" x2="469.30" y2="570.00" stroke="#262626" stroke-width="1.0"/>
<line x1="466.10" y1="570.00" x2="472.50" y2="570.00" stroke="#262626" stroke-width="1.0"/>
<rect x="456.10" y="581.50" width="26.40" height="42.90" fill="#fff" stroke="#262626" stroke-width="1.0"/>
<line x1="495.70" y1="531.80" x2="495.70" y2="526.50" stroke="#262626" stroke-width="1.0"/>
<line x1="492.50" y1="526.50" x2="498.90" y2="526.50" stroke="#262626" stroke-width="1.0"/>
<rect x="482.50" y="531.80" width="26.40" height="92.60" fill="#000" stroke="#262626" stroke-width="1.0"/>
<line x1="321.20" y1="624.40" x2="518.60" y2="624.40" stroke="#262626" stroke-width="1.0"/>
<text x="323.80" y="638.90" font-size="9.6" text-anchor="start" font-weight="normal" fill="#111" textLength="59.20" lengthAdjust="spacingAndGlyphs">unstimulated</text>
<text x="408.30" y="638.90" font-size="9.6" text-anchor="start" font-weight="normal" fill="#111" textLength="20.20" lengthAdjust="spacingAndGlyphs">CD3</text>
<text x="443.60" y="638.90" font-size="9.6" text-anchor="start" font-weight="normal" fill="#111" textLength="76.60" lengthAdjust="spacingAndGlyphs">PDBu/Ionomycin</text>
<rect x="323.10" y="517.80" width="68.90" height="30.70" fill="#fff" stroke="#262626" stroke-width="1.0"/>
<rect x="326.30" y="521.40" width="10.00" height="9.40" fill="#fff" stroke="#262626" stroke-width="1.0"/>
<text x="341.00" y="529.90" font-size="10.2" text-anchor="start" font-weight="normal" fill="#111" textLength="21.00" lengthAdjust="spacingAndGlyphs">GFP</text>
<rect x="326.30" y="535.80" width="10.00" height="9.40" fill="#000" stroke="#262626" stroke-width="1.0"/>
<text x="341.00" y="544.30" font-size="10.2" text-anchor="start" font-weight="normal" fill="#111" textLength="49.30" lengthAdjust="spacingAndGlyphs">CA mutant</text>
<clipPath id="c8"><rect x="325.40" y="562.80" width="38.60" height="15.90"/></clipPath>
<rect x="325.40" y="562.80" width="38.60" height="15.90" fill="url(#gA)"/>
<g clip-path="url(#c8)">
<path transform="translate(354.00,570.20) scale(1.0)" d="M-8.6,-2.7 Q-7.6,-1.9 -4,-2 L4,-2 Q7.6,-1.9 8.6,-2.7 Q9.6,0.8 5.5,2.5 Q0,3.7 -5.5,2.5 Q-9.6,0.8 -8.6,-2.7Z" fill="#000" opacity="1" filter="url(#b1)"/>
</g>
<rect x="325.40" y="562.80" width="38.60" height="15.90" fill="none" stroke="#2a2a2a" stroke-width="1.1"/>
<text x="329.00" y="560.20" font-size="8.6" text-anchor="start" font-weight="bold" fill="#111" textLength="15.60" lengthAdjust="spacingAndGlyphs" stroke-width="0.1">GFP</text>
<text x="347.80" y="560.20" font-size="8.6" text-anchor="start" font-weight="bold" fill="#111" textLength="10.60" lengthAdjust="spacingAndGlyphs" stroke-width="0.1">CA</text>
<text x="366.60" y="573.55" font-size="8.4" font-weight="normal" stroke-width="0.5" fill="#111"><tspan textLength="16.6" lengthAdjust="spacingAndGlyphs">PKC</tspan><tspan font-family='"Liberation Serif", "DejaVu Serif", serif' font-weight="normal" font-size="9.4" stroke-width="0.1">ζ</tspan></text>
<rect x="64.80" y="683.50" width="183.20" height="107.90" fill="#fff" stroke="#262626" stroke-width="1.0"/>
<line x1="61.50" y1="791.40" x2="64.80" y2="791.40" stroke="#262626" stroke-width="1.0"/>
<line x1="61.50" y1="773.42" x2="64.80" y2="773.42" stroke="#262626" stroke-width="1.0"/>
<line x1="61.50" y1="755.43" x2="64.80" y2="755.43" stroke="#262626" stroke-width="1.0"/>
<line x1="61.50" y1="737.45" x2="64.80" y2="737.45" stroke="#262626" stroke-width="1.0"/>
<line x1="61.50" y1="719.47" x2="64.80" y2="719.47" stroke="#262626" stroke-width="1.0"/>
<line x1="61.50" y1="701.48" x2="64.80" y2="701.48" stroke="#262626" stroke-width="1.0"/>
<line x1="61.50" y1="683.50" x2="64.80" y2="683.50" stroke="#262626" stroke-width="1.0"/>
<text x="59.60" y="795.60" font-size="11.1" text-anchor="end" font-weight="normal" fill="#111">0</text>
<text x="59.60" y="777.62" font-size="11.1" text-anchor="end" font-weight="normal" fill="#111">20</text>
<text x="59.60" y="759.63" font-size="11.1" text-anchor="end" font-weight="normal" fill="#111">40</text>
<text x="59.60" y="741.65" font-size="11.1" text-anchor="end" font-weight="normal" fill="#111">60</text>
<text x="59.60" y="723.67" font-size="11.1" text-anchor="end" font-weight="normal" fill="#111">80</text>
<text x="59.60" y="705.68" font-size="11.1" text-anchor="end" font-weight="normal" fill="#111">100</text>
<text x="59.60" y="687.70" font-size="11.1" text-anchor="end" font-weight="normal" fill="#111">120</text>
<text transform="translate(30.80,737.45) rotate(-90)" font-size="10.1" text-anchor="middle" fill="#111" textLength="111.0" lengthAdjust="spacingAndGlyphs">binding to ICAM-1 [%]</text>
<text x="106.20" y="674.05" font-size="11.8" text-anchor="start" font-weight="normal" fill="#111" textLength="102.50" lengthAdjust="spacingAndGlyphs">Mouse CD3<tspan dy="-5.8" font-size="8.8">+</tspan><tspan dy="5.8"> </tspan>T-cells</text>
<line x1="97.25" y1="762.60" x2="97.25" y2="754.30" stroke="#262626" stroke-width="1.0"/>
<line x1="94.05" y1="754.30" x2="100.45" y2="754.30" stroke="#262626" stroke-width="1.0"/>
<rect x="84.00" y="762.60" width="26.50" height="28.80" fill="#fff" stroke="#262626" stroke-width="1.0"/>
<line x1="123.75" y1="770.30" x2="123.75" y2="763.50" stroke="#262626" stroke-width="1.0"/>
<line x1="120.55" y1="763.50" x2="126.95" y2="763.50" stroke="#262626" stroke-width="1.0"/>
<rect x="110.50" y="770.30" width="26.50" height="21.10" fill="#000" stroke="#262626" stroke-width="1.0"/>
<line x1="187.85" y1="701.00" x2="187.85" y2="693.50" stroke="#262626" stroke-width="1.0"/>
<line x1="184.65" y1="693.50" x2="191.05" y2="693.50" stroke="#262626" stroke-width="1.0"/>
<rect x="174.60" y="701.00" width="26.50" height="90.40" fill="#fff" stroke="#262626" stroke-width="1.0"/>
<line x1="214.35" y1="740.80" x2="214.35" y2="733.30" stroke="#262626" stroke-width="1.0"/>
<line x1="211.15" y1="733.30" x2="217.55" y2="733.30" stroke="#262626" stroke-width="1.0"/>
<rect x="201.10" y="740.80" width="26.50" height="50.60" fill="#000" stroke="#262626" stroke-width="1.0"/>
<line x1="64.80" y1="791.40" x2="248.00" y2="791.40" stroke="#262626" stroke-width="1.0"/>
<text x="79.80" y="805.90" font-size="9.6" text-anchor="start" font-weight="normal" fill="#111" textLength="59.40" lengthAdjust="spacingAndGlyphs">unstimulated</text>
<text x="178.00" y="805.90" font-size="9.6" text-anchor="start" font-weight="normal" fill="#111" textLength="49.50" lengthAdjust="spacingAndGlyphs">CD3/CD28</text>
<rect x="66.80" y="685.40" width="59.80" height="30.30" fill="#fff" stroke="#262626" stroke-width="1.0"/>
<rect x="69.70" y="689.00" width="10.00" height="9.40" fill="#fff" stroke="#262626" stroke-width="1.0"/>
<text x="84.20" y="697.50" font-size="10.2" text-anchor="start" font-weight="normal" fill="#111" textLength="10.40" lengthAdjust="spacingAndGlyphs">wt</text>
<rect x="69.70" y="703.40" width="10.00" height="9.40" fill="#000" stroke="#262626" stroke-width="1.0"/>
<text x="84.20" y="711.90" font-size="10.2" text-anchor="start" font-weight="normal" fill="#111" textLength="38.10" lengthAdjust="spacingAndGlyphs">PKC KO</text>
<clipPath id="c9"><rect x="70.20" y="729.20" width="38.20" height="15.50"/></clipPath>
<rect x="70.20" y="729.20" width="38.20" height="15.50" fill="url(#gA)"/>
<g clip-path="url(#c9)">
<rect x="73.20" y="735.40" width="13.6" height="2.4" rx="1.2" fill="#000" opacity="0.95" filter="url(#b0)"/>
</g>
<rect x="70.20" y="729.20" width="38.20" height="15.50" fill="none" stroke="#2a2a2a" stroke-width="1.1"/>
<text x="77.30" y="726.60" font-size="8.6" text-anchor="start" font-weight="bold" fill="#111" textLength="8.30" lengthAdjust="spacingAndGlyphs" stroke-width="0.1">wt</text>
<text x="92.00" y="726.60" font-size="8.6" text-anchor="start" font-weight="bold" fill="#111" textLength="10.40" lengthAdjust="spacingAndGlyphs" stroke-width="0.1">KO</text>
<text x="111.00" y="739.75" font-size="8.4" font-weight="normal" stroke-width="0.5" fill="#111"><tspan textLength="16.6" lengthAdjust="spacingAndGlyphs">PKC</tspan><tspan font-family='"Liberation Serif", "DejaVu Serif", serif' font-weight="normal" font-size="9.4" stroke-width="0.1">θ</tspan></text>
<rect x="321.20" y="683.50" width="197.40" height="107.90" fill="#fff" stroke="#262626" stroke-width="1.0"/>
<line x1="317.90" y1="791.40" x2="321.20" y2="791.40" stroke="#262626" stroke-width="1.0"/>
<line x1="317.90" y1="775.99" x2="321.20" y2="775.99" stroke="#262626" stroke-width="1.0"/>
<line x1="317.90" y1="760.57" x2="321.20" y2="760.57" stroke="#262626" stroke-width="1.0"/>
<line x1="317.90" y1="745.16" x2="321.20" y2="745.16" stroke="#262626" stroke-width="1.0"/>
<line x1="317.90" y1="729.74" x2="321.20" y2="729.74" stroke="#262626" stroke-width="1.0"/>
<line x1="317.90" y1="714.33" x2="321.20" y2="714.33" stroke="#262626" stroke-width="1.0"/>
<line x1="317.90" y1="698.91" x2="321.20" y2="698.91" stroke="#262626" stroke-width="1.0"/>
<line x1="317.90" y1="683.50" x2="321.20" y2="683.50" stroke="#262626" stroke-width="1.0"/>
<text x="316.60" y="795.60" font-size="11.1" text-anchor="end" font-weight="normal" fill="#111">0</text>
<text x="316.60" y="780.19" font-size="11.1" text-anchor="end" font-weight="normal" fill="#111">50</text>
<text x="316.60" y="764.77" font-size="11.1" text-anchor="end" font-weight="normal" fill="#111">100</text>
<text x="316.60" y="749.36" font-size="11.1" text-anchor="end" font-weight="normal" fill="#111">150</text>
<text x="316.60" y="733.94" font-size="11.1" text-anchor="end" font-weight="normal" fill="#111">200</text>
<text x="316.60" y="718.53" font-size="11.1" text-anchor="end" font-weight="normal" fill="#111">250</text>
<text x="316.60" y="703.11" font-size="11.1" text-anchor="end" font-weight="normal" fill="#111">300</text>
<text x="316.60" y="687.70" font-size="11.1" text-anchor="end" font-weight="normal" fill="#111">350</text>
<text transform="translate(287.10,737.45) rotate(-90)" font-size="10.1" text-anchor="middle" fill="#111" textLength="111.0" lengthAdjust="spacingAndGlyphs">binding to ICAM-1 [%]</text>
<text x="373.00" y="674.05" font-size="11.8" text-anchor="start" font-weight="normal" fill="#111" textLength="82.50" lengthAdjust="spacingAndGlyphs">Jurkat-TAg cells</text>
<line x1="339.07" y1="781.50" x2="339.07" y2="779.00" stroke="#262626" stroke-width="1.0"/>
<line x1="335.88" y1="779.00" x2="342.27" y2="779.00" stroke="#262626" stroke-width="1.0"/>
<rect x="326.00" y="781.50" width="26.15" height="9.90" fill="#fff" stroke="#262626" stroke-width="1.0"/>
<line x1="365.22" y1="778.50" x2="365.22" y2="776.50" stroke="#262626" stroke-width="1.0"/>
<line x1="362.02" y1="776.50" x2="368.42" y2="776.50" stroke="#262626" stroke-width="1.0"/>
<rect x="352.15" y="778.50" width="26.15" height="12.90" fill="#000" stroke="#262626" stroke-width="1.0"/>
<line x1="403.93" y1="782.00" x2="403.93" y2="779.50" stroke="#262626" stroke-width="1.0"/>
<line x1="400.73" y1="779.50" x2="407.12" y2="779.50" stroke="#262626" stroke-width="1.0"/>
<rect x="390.80" y="782.00" width="26.25" height="9.40" fill="#fff" stroke="#262626" stroke-width="1.0"/>
<line x1="430.18" y1="755.50" x2="430.18" y2="752.50" stroke="#262626" stroke-width="1.0"/>
<line x1="426.98" y1="752.50" x2="433.38" y2="752.50" stroke="#262626" stroke-width="1.0"/>
<rect x="417.05" y="755.50" width="26.25" height="35.90" fill="#000" stroke="#262626" stroke-width="1.0"/>
<line x1="469.30" y1="761.30" x2="469.30" y2="753.30" stroke="#262626" stroke-width="1.0"/>
<line x1="466.10" y1="753.30" x2="472.50" y2="753.30" stroke="#262626" stroke-width="1.0"/>
<rect x="456.10" y="761.30" width="26.40" height="30.10" fill="#fff" stroke="#262626" stroke-width="1.0"/>
<line x1="495.70" y1="708.00" x2="495.70" y2="701.50" stroke="#262626" stroke-width="1.0"/>
<line x1="492.50" y1="701.50" x2="498.90" y2="701.50" stroke="#262626" stroke-width="1.0"/>
<rect x="482.50" y="708.00" width="26.40" height="83.40" fill="#000" stroke="#262626" stroke-width="1.0"/>
<line x1="321.20" y1="791.40" x2="518.60" y2="791.40" stroke="#262626" stroke-width="1.0"/>
<text x="323.80" y="805.90" font-size="9.6" text-anchor="start" font-weight="normal" fill="#111" textLength="59.20" lengthAdjust="spacingAndGlyphs">unstimulated</text>
<text x="408.30" y="805.90" font-size="9.6" text-anchor="start" font-weight="normal" fill="#111" textLength="20.20" lengthAdjust="spacingAndGlyphs">CD3</text>
<text x="443.60" y="805.90" font-size="9.6" text-anchor="start" font-weight="normal" fill="#111" textLength="76.60" lengthAdjust="spacingAndGlyphs">PDBu/Ionomycin</text>
<rect x="323.10" y="685.00" width="68.90" height="30.70" fill="#fff" stroke="#262626" stroke-width="1.0"/>
<rect x="326.30" y="688.60" width="10.00" height="9.40" fill="#fff" stroke="#262626" stroke-width="1.0"/>
<text x="341.00" y="697.10" font-size="10.2" text-anchor="start" font-weight="normal" fill="#111" textLength="21.00" lengthAdjust="spacingAndGlyphs">GFP</text>
<rect x="326.30" y="703.00" width="10.00" height="9.40" fill="#000" stroke="#262626" stroke-width="1.0"/>
<text x="341.00" y="711.50" font-size="10.2" text-anchor="start" font-weight="normal" fill="#111" textLength="49.30" lengthAdjust="spacingAndGlyphs">CA mutant</text>
<clipPath id="c10"><rect x="325.40" y="728.70" width="38.60" height="15.90"/></clipPath>
<rect x="325.40" y="728.70" width="38.60" height="15.90" fill="url(#gA)"/>
<g clip-path="url(#c10)">
<rect x="346.00" y="733.60" width="19.5" height="5.6" rx="2.8" fill="#000" opacity="1" filter="url(#b1)"/>
</g>
<rect x="325.40" y="728.70" width="38.60" height="15.90" fill="none" stroke="#2a2a2a" stroke-width="1.1"/>
<text x="329.00" y="726.10" font-size="8.6" text-anchor="start" font-weight="bold" fill="#111" textLength="15.60" lengthAdjust="spacingAndGlyphs" stroke-width="0.1">GFP</text>
<text x="347.80" y="726.10" font-size="8.6" text-anchor="start" font-weight="bold" fill="#111" textLength="10.60" lengthAdjust="spacingAndGlyphs" stroke-width="0.1">CA</text>
<text x="366.60" y="739.45" font-size="8.4" font-weight="normal" stroke-width="0.5" fill="#111"><tspan textLength="16.6" lengthAdjust="spacingAndGlyphs">PKC</tspan><tspan font-family='"Liberation Serif", "DejaVu Serif", serif' font-weight="normal" font-size="9.4" stroke-width="0.1">θ</tspan></text>
<text x="0.90" y="12.80" font-size="15.0" text-anchor="start" font-weight="bold" fill="#111" textLength="12.60" lengthAdjust="spacingAndGlyphs" stroke-width="0.3">A</text>
<text x="276.60" y="12.80" font-size="15.2" text-anchor="start" font-weight="bold" fill="#111" textLength="12.00" lengthAdjust="spacingAndGlyphs" stroke-width="0.3">B</text>
<text x="-0.50" y="169.30" font-size="17" text-anchor="start" font-weight="bold" fill="#111" stroke-width="0.3">C</text>
<text x="0.10" y="334.00" font-size="15.4" text-anchor="start" font-weight="bold" fill="#111" textLength="11.90" lengthAdjust="spacingAndGlyphs" stroke-width="0.3">D</text>
<text x="0.30" y="499.70" font-size="16.2" text-anchor="start" font-weight="bold" fill="#111" stroke-width="0.3">E</text>
<text x="0.90" y="665.80" font-size="16.3" text-anchor="start" font-weight="bold" fill="#111" stroke-width="0.3">F</text>
<text x="22.3" y="166.50" font-size="10.8" font-weight="bold" fill="#111" stroke-width="0.4"><tspan textLength="25.8" lengthAdjust="spacingAndGlyphs">PKC</tspan><tspan font-family='"Liberation Serif", "DejaVu Serif", serif' font-weight="normal" font-size="12.5" stroke-width="0.1" textLength="8.6" lengthAdjust="spacingAndGlyphs">α</tspan></text>
<text x="22.3" y="332.00" font-size="10.8" font-weight="bold" fill="#111" stroke-width="0.4"><tspan textLength="25.8" lengthAdjust="spacingAndGlyphs">PKC</tspan><tspan font-family='"Liberation Serif", "DejaVu Serif", serif' font-weight="normal" font-size="12.0" stroke-width="0.1">β</tspan></text>
<text x="21.3" y="498.20" font-size="10.8" font-weight="bold" fill="#111" stroke-width="0.4"><tspan textLength="25.8" lengthAdjust="spacingAndGlyphs">PKC</tspan><tspan font-family='"Liberation Serif", "DejaVu Serif", serif' font-weight="normal" font-size="12.0" stroke-width="0.1">ζ</tspan></text>
<text x="21.2" y="664.30" font-size="10.8" font-weight="bold" fill="#111" stroke-width="0.4"><tspan textLength="25.8" lengthAdjust="spacingAndGlyphs">PKC</tspan><tspan font-family='"Liberation Serif", "DejaVu Serif", serif' font-weight="normal" font-size="11.5" stroke-width="0.1">θ</tspan></text>
</svg></body></html>
